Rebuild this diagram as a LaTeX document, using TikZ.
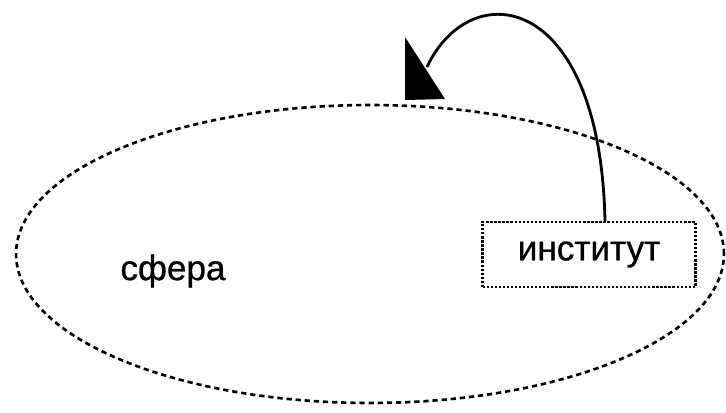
\documentclass[tikz,border=0pt]{standalone}
\usepackage{fontspec}
\setmainfont{Liberation Sans}
\newfontfamily\labelfont[FakeBold=0.8]{Liberation Sans}
\usetikzlibrary{shapes.geometric}
\newcommand{\labelSize}[0]{\labelfont\fontsize{20}{24}\selectfont}

\begin{document}
\begin{tikzpicture}[x=0.02cm, y=-0.02cm]
  \tikzset{dotline/.style={line width=1.5pt, dash pattern=on 3pt off 2.2pt},
    fineline/.style={line width=1.3pt, dash pattern=on 1.3pt off 1pt},
    every node/.style={font=\labelSize}}
  \useasboundingbox (0,0) rectangle (726,412);
  \node[dotline, draw, ellipse, minimum width=14.16cm, minimum height=5.96cm] (sfera) at (370,254) {};
  \node (sferaText) at (173,271) {сфера};
  \node[fineline, draw, rectangle, minimum width=4.26cm, minimum height=1.3cm] (institut) at (589,254.5) {институт};
  \coordinate (tip) at (405,100);
  \coordinate (tipEnd) at (427,67);
  \draw[line width=1.6pt] ([xshift=0.32cm]institut.north) .. controls (600,-10) and (470,-25) .. (tipEnd);
  \fill (tip) -- (405,37) -- (445,99) -- cycle;
\end{tikzpicture}
\end{document}
